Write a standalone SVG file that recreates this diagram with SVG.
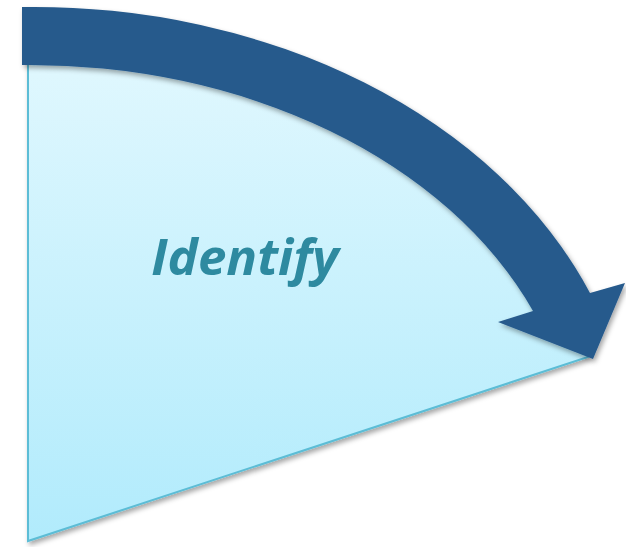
<svg xmlns="http://www.w3.org/2000/svg" width="626" height="547" viewBox="0 0 626 547">
  <defs>
    <linearGradient id="wedgeFill" x1="0" y1="0" x2="0" y2="1">
      <stop offset="0" stop-color="#e2f8fe"/>
      <stop offset="1" stop-color="#b1ebfc"/>
    </linearGradient>
    <filter id="shadow" x="-10%" y="-10%" width="130%" height="130%">
      <feDropShadow dx="2" dy="3" stdDeviation="2.5" flood-color="#000" flood-opacity="0.35"/>
    </filter>
  </defs>
  <style>
    .wedge { fill: url(#wedgeFill); stroke: #5bbdd6; stroke-width: 2; stroke-linejoin: miter; }
    .arrow { fill: #265a8c; }
    .label { font-family: "Open Sans", "Noto Sans", "Liberation Sans", sans-serif; font-weight: bold; font-style: italic; font-size: 51px; fill: #2e8aa0; }
  </style>
  <g id="wedge" filter="url(#shadow)">
    <path class="wedge" d="M28,541 L28,36 A575,430 0 0 1 552,300 L588,357 Z"/>
  </g>
  <g id="connectors">
    <path class="arrow" filter="url(#shadow)" d="M22,7 A600,458 0 0 1 590,293 L625,283 L593,359 L498,322 L533,311 A545,400 0 0 0 22,65 Z"/>
  </g>
  <g id="label">
    <text class="label" x="245" y="275" text-anchor="middle">Identify</text>
  </g>
</svg>
